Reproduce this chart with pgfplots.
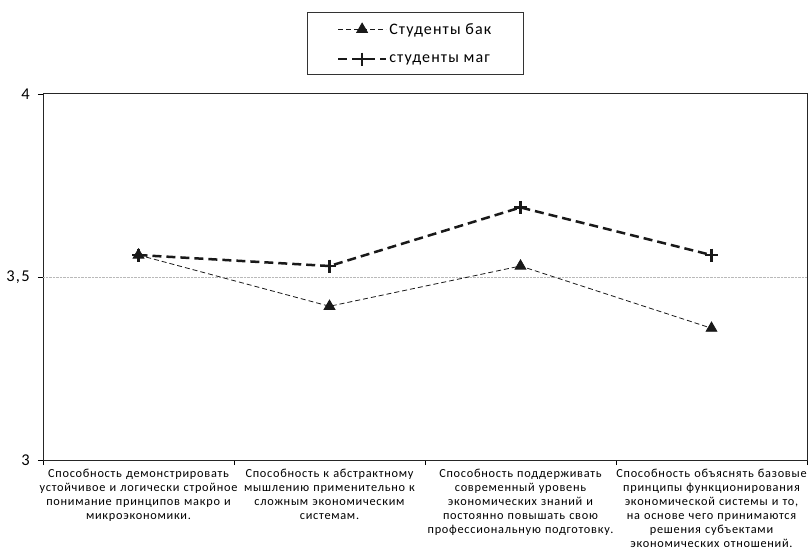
\documentclass[border=0pt]{standalone}
\usepackage{fontspec}
\setmainfont{Carlito}
\newfontfamily\lblfont[LetterSpace=6]{Carlito}
\newfontfamily\legfont[LetterSpace=7]{Carlito}
\newfontfamily\tickfont[LetterSpace=8]{Carlito}
\usepackage{pgfplots}
\pgfplotsset{compat=1.18}
\begin{document}
\begin{tikzpicture}
\path[use as bounding box] (-43bp,-96bp) rectangle (766bp,460bp);
\begin{axis}[
  at={(0,0)}, anchor=south west,
  scale only axis, width=764bp, height=366bp,
  xmin=-0.5, xmax=3.5, ymin=3, ymax=4,
  xtick={-0.5,0.5,1.5,2.5,3.5},
  x tick label as interval,
  xticklabels={
    {Способность демонстрировать\\устойчивое и логически стройное\\понимание принципов макро и\\микроэкономики.},
    {Способность к абстрактному\\мышлению применительно к\\сложным экономическим\\системам.},
    {Способность поддерживать\\современный уровень\\экономических знаний и\\постоянно повышать свою\\профессиональную подготовку.},
    {Способность объяснять базовые\\принципы функционирования\\экономической системы и то,\\на основе чего принимаются\\решения субъектами\\экономических отношений.}
  },
  xticklabel style={align=center, text width=230bp, font=\lblfont\fontsize{12.3bp}{13.9bp}\selectfont, inner sep=0pt, yshift=-4bp},
  ytick={3,4}, yticklabels={3,4},
  extra y ticks={3.5}, extra y tick labels={3{,}5},
  extra y tick style={ymajorgrids=true, grid style={gray!55, densely dotted, line width=0.7bp}},
  yticklabel style={font=\tickfont\fontsize{16.5bp}{18bp}\selectfont, inner sep=0pt, xshift=-8bp},
  tick align=outside, major tick length=5bp,
  tick style={black, line width=0.8bp},
  xtick pos=bottom, ytick pos=left,
  axis line style={black!85, line width=1bp},
  legend style={at={(0.487,1.2245)}, anchor=north, draw=black!80, line width=0.6bp,
    font=\legfont\fontsize{16bp}{18bp}\selectfont, inner xsep=30bp, inner ysep=9bp,
    row sep=15bp, cells={anchor=west}},
  legend image code/.code={
    \draw[mark repeat=2,mark phase=2,#1] plot coordinates {(0bp,0bp) (24bp,0bp) (48bp,0bp)};
  },
]
\addplot[black!90, line width=0.8bp, dash pattern=on 5bp off 3bp,
  mark=triangle*, mark size=6.2bp, mark options={solid, fill=black!90}]
  coordinates {(0,3.56) (1,3.42) (2,3.53) (3,3.36)};
\addlegendentry{Студенты бак}
\addplot[black!90, line width=2.5bp, dash pattern=on 9bp off 5bp,
  mark=+, mark size=6.5bp, mark options={solid, line width=2.2bp}]
  coordinates {(0,3.56) (1,3.53) (2,3.69) (3,3.56)};
\addlegendentry{студенты маг}
\end{axis}
\end{tikzpicture}
\end{document}
